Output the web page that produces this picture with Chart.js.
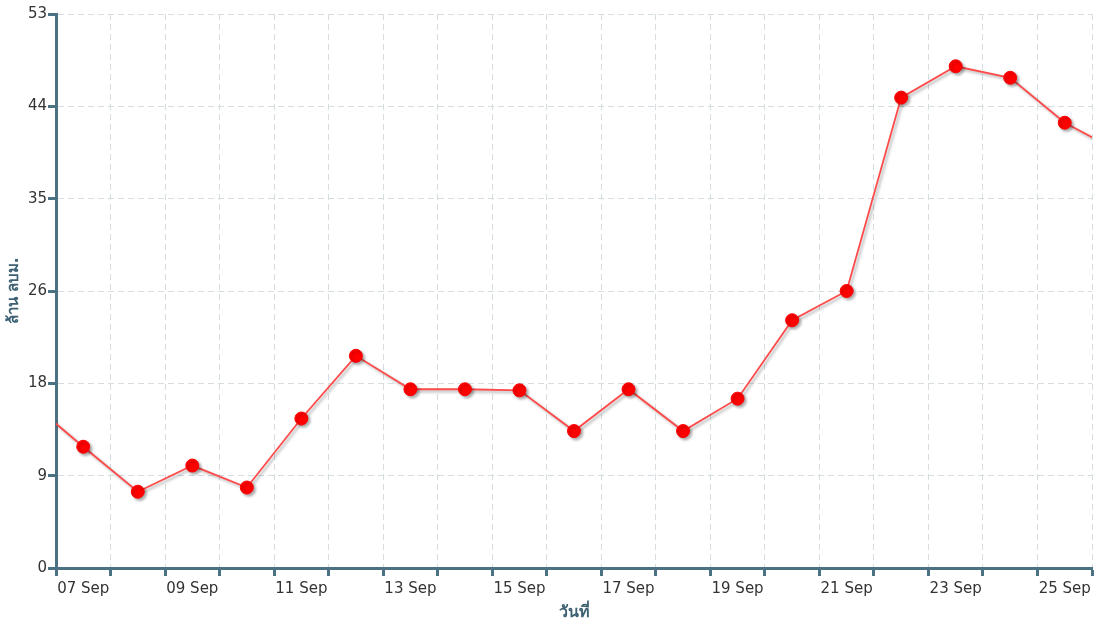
<!DOCTYPE html>
<html>
<head>
<meta charset="utf-8">
<script src="https://cdn.jsdelivr.net/npm/chart.js@4"></script>
<style>
  body { margin: 0; background: #fff; }
  #wrap { width: 1102px; height: 625px; }
</style>
</head>
<body>
<div id="wrap"><canvas id="chart"></canvas></div>
<script>
// days on the axis, plus one hidden day at each end (the line runs off the edges)
const dates = ['06 Sep', '07 Sep', '08 Sep', '09 Sep', '10 Sep', '11 Sep', '12 Sep', '13 Sep',
  '14 Sep', '15 Sep', '16 Sep', '17 Sep', '18 Sep', '19 Sep', '20 Sep', '21 Sep', '22 Sep',
  '23 Sep', '24 Sep', '25 Sep', '26 Sep'];
const volumes = [16.0, 11.6, 7.3, 9.8, 7.7, 14.3, 20.3, 17.1, 17.1, 17.0, 13.1, 17.1, 13.1,
  16.2, 23.7, 26.5, 45.0, 48.0, 46.9, 42.6, 39.8];
const firstShown = 1;   // 07 Sep
const lastShown = 19;   // 25 Sep
const yTickLabels = ['0', '9', '18', '26', '35', '44', '53'];
const yMax = 53;

const axisColor = '#4b7282';
const gridColor = '#d6dde1';
const titleColor = '#3d6172';

// soft grey shadow under the line and the dots
const shadowPlugin = {
  id: 'shadow',
  beforeDatasetsDraw(chart) {
    const ctx = chart.ctx;
    ctx.save();
    ctx.shadowColor = 'rgba(0,0,0,0.33)';
    ctx.shadowBlur = 3;
    ctx.shadowOffsetX = 2;
    ctx.shadowOffsetY = 2;
  },
  afterDatasetsDraw(chart) {
    chart.ctx.restore();
  }
};

const points = volumes.map((v, i) => ({ x: i, y: v }));
const isDay = v => Number.isInteger(v);

new Chart(document.getElementById('chart'), {
  type: 'line',
  data: {
    datasets: [{
      data: points,
      borderColor: '#ff4a4a',
      borderWidth: 1.8,
      backgroundColor: '#ff0000',
      pointBackgroundColor: '#ff0000',
      pointBorderColor: '#ff0000',
      pointBorderWidth: 1,
      pointRadius: 6.5,
      tension: 0,
      fill: false
    }]
  },
  options: {
    responsive: true,
    maintainAspectRatio: false,
    animation: false,
    layout: { padding: { top: 14, right: 10, left: 0, bottom: 0 } },
    plugins: {
      legend: { display: false },
      tooltip: { enabled: false }
    },
    scales: {
      x: {
        type: 'linear',
        min: firstShown - 0.5,
        max: lastShown + 0.5,
        afterBuildTicks(scale) {
          const t = [];
          for (let v = firstShown - 0.5; v <= lastShown + 0.5; v += 0.5) t.push({ value: v });
          scale.ticks = t;
        },
        grid: {
          color: c => isDay(c.tick.value) ? 'rgba(0,0,0,0)' : gridColor,
          tickColor: c => isDay(c.tick.value) ? 'rgba(0,0,0,0)' : axisColor,
          lineWidth: 1,
          tickWidth: 3,
          tickLength: 8
        },
        border: { color: axisColor, width: 3, dash: [6, 4] },
        ticks: {
          autoSkip: false,
          maxRotation: 0,
          color: '#333',
          padding: 4,
          font: { family: 'DejaVu Sans', size: 15 },
          callback: v => (isDay(v) && (v - firstShown) % 2 === 0) ? dates[v] : ''
        },
        title: {
          display: true,
          text: 'วันที่',
          color: titleColor,
          font: { family: 'DejaVu Sans', size: 16, weight: 'bold' },
          padding: { top: 2, bottom: 3 }
        },
        afterFit(scale) { scale.height = 57; }
      },
      y: {
        min: 0,
        max: yMax,
        grid: {
          color: gridColor,
          lineWidth: 1,
          tickColor: axisColor,
          tickWidth: 3,
          tickLength: 8
        },
        border: { color: axisColor, width: 3, dash: [6, 4] },
        ticks: {
          count: yTickLabels.length,
          color: '#333',
          padding: 1,
          font: { family: 'DejaVu Sans', size: 15 },
          callback: (value, index) => yTickLabels[index]
        },
        title: {
          display: true,
          text: 'ล้าน ลบม.',
          color: titleColor,
          font: { family: 'DejaVu Sans', size: 15, weight: 'bold' },
          padding: { top: 5, bottom: 2 }
        },
        afterFit(scale) { scale.width = 56; }
      }
    }
  },
  plugins: [shadowPlugin]
});
</script>
</body>
</html>
